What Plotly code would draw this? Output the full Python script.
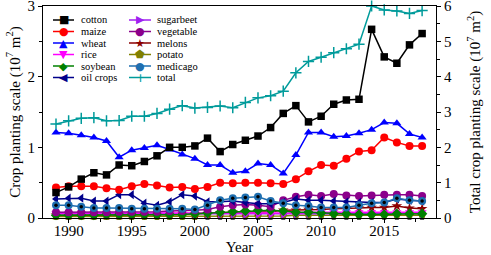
import plotly.graph_objects as go

years = list(range(1989, 2019))

cotton = [0.36,0.44,0.55,0.64,0.61,0.75,0.74,0.80,0.88,1.00,1.00,1.02,1.13,0.94,1.04,1.10,1.16,1.28,1.48,1.59,1.36,1.44,1.61,1.67,1.68,2.67,2.28,2.19,2.45,2.61]
maize = [0.43,0.45,0.45,0.45,0.42,0.40,0.45,0.48,0.46,0.43,0.44,0.41,0.44,0.50,0.49,0.50,0.50,0.49,0.48,0.55,0.66,0.75,0.74,0.84,0.94,0.96,1.14,1.07,1.02,1.02]
wheat = [1.21,1.20,1.17,1.14,1.09,0.86,0.96,0.99,1.03,0.97,0.90,0.84,0.75,0.75,0.64,0.66,0.77,0.75,0.63,0.89,1.21,1.21,1.15,1.16,1.20,1.25,1.35,1.34,1.19,1.14]
rice = [0.07,0.07,0.07,0.07,0.07,0.07,0.07,0.07,0.07,0.07,0.06,0.06,0.06,0.06,0.07,0.07,0.07,0.07,0.07,0.07,0.08,0.08,0.08,0.08,0.08,0.08,0.08,0.08,0.08,0.08]
soybean = [0.04,0.04,0.04,0.04,0.05,0.05,0.05,0.05,0.05,0.05,0.05,0.06,0.07,0.08,0.09,0.10,0.11,0.11,0.10,0.08,0.08,0.07,0.06,0.06,0.05,0.05,0.05,0.06,0.06,0.06]
oil_crops = [0.27,0.28,0.28,0.24,0.24,0.33,0.33,0.21,0.18,0.23,0.33,0.31,0.23,0.23,0.24,0.22,0.20,0.20,0.22,0.27,0.25,0.25,0.24,0.23,0.22,0.22,0.22,0.27,0.25,0.24]
sugarbeet = [0.06,0.06,0.06,0.06,0.06,0.06,0.05,0.05,0.05,0.05,0.05,0.05,0.05,0.05,0.05,0.05,0.05,0.05,0.05,0.05,0.06,0.06,0.06,0.06,0.06,0.06,0.06,0.07,0.06,0.06]
vegetable = [0.08,0.08,0.08,0.08,0.08,0.09,0.09,0.09,0.09,0.10,0.10,0.11,0.12,0.16,0.18,0.19,0.18,0.16,0.25,0.30,0.33,0.31,0.34,0.32,0.31,0.32,0.33,0.33,0.33,0.31]
melons = [0.04,0.04,0.04,0.04,0.04,0.04,0.05,0.05,0.05,0.05,0.05,0.06,0.06,0.07,0.08,0.08,0.09,0.09,0.11,0.11,0.12,0.12,0.13,0.13,0.14,0.15,0.15,0.17,0.14,0.13]
potato = [0.02,0.02,0.02,0.02,0.02,0.02,0.02,0.02,0.02,0.02,0.02,0.02,0.03,0.03,0.03,0.03,0.03,0.03,0.03,0.04,0.04,0.04,0.05,0.04,0.04,0.04,0.04,0.04,0.04,0.04]
medicago = [0.18,0.18,0.16,0.14,0.14,0.14,0.13,0.13,0.13,0.13,0.13,0.12,0.18,0.25,0.28,0.29,0.30,0.24,0.21,0.18,0.17,0.15,0.15,0.15,0.18,0.21,0.22,0.28,0.25,0.24]
total = [2.66,2.75,2.82,2.84,2.75,2.76,2.88,2.88,2.96,3.08,3.18,3.11,3.13,3.17,3.12,3.27,3.40,3.46,3.59,4.11,4.43,4.55,4.68,4.79,4.92,6.00,5.89,5.86,5.79,5.87]
baseline = [0.005] * 30

legend_col1 = ["cotton", "maize", "wheat", "rice", "soybean", "oil crops"]
legend_col2 = ["sugarbeet", "vegetable", "melons", "potato", "medicago", "total"]

FONT = "Liberation Serif"

styles = {
    "cotton": ("#000000", "square", "■"),
    "maize": ("#FF0000", "circle", "●"),
    "wheat": ("#0000FF", "triangle-up", "▲"),
    "rice": ("#FF00FF", "triangle-down", "▼"),
    "soybean": ("#008000", "diamond", "◆"),
    "oil crops": ("#00008B", "triangle-left", "◀"),
    "sugarbeet": ("#A020F0", "triangle-right", "▶"),
    "vegetable": ("#8B008B", "circle", "●"),
    "melons": ("#8B0000", "star", "★"),
    "potato": ("#808000", "pentagon", "⬟"),
    "medicago": ("#1F6FB0", "circle", "●"),
    "total": ("#009B9B", "cross-thin", "+"),
}

fig = go.Figure()

def add(name, y, size=8, yaxis="y", mlw=0):
    color, symbol, _ = styles[name]
    fig.add_trace(go.Scatter(
        x=years, y=y, name=name, mode="lines+markers",
        line=dict(color=color, width=1.5),
        marker=dict(symbol=symbol, size=size, color=color,
                    line=dict(color=color, width=mlw)),
        yaxis=yaxis, showlegend=False, cliponaxis=False))

fig.add_trace(go.Scatter(x=years, y=baseline, mode="markers", showlegend=False,
                         marker=dict(symbol="square", size=4, color="black"),
                         cliponaxis=False, hoverinfo="skip"))
add("potato", potato)
add("melons", melons)
add("sugarbeet", sugarbeet)
add("rice", rice)
add("soybean", soybean)
add("vegetable", vegetable)
add("oil crops", oil_crops)
add("medicago", medicago)
fig.add_trace(go.Scatter(x=years, y=medicago, mode="markers", showlegend=False,
                         marker=dict(symbol="circle", size=3.5, color="black"),
                         cliponaxis=False, hoverinfo="skip"))
add("maize", maize)
add("wheat", wheat)
add("cotton", cotton, size=7.5)
add("total", total, size=8, yaxis="y2", mlw=1.5)

# compact two-column legend (layout text + short line samples)
PX0, PW, PY1, PH = 43, 393, 218, 212
def px(x):
    return (x - PX0) / PW
def py(y):
    return (PY1 - y) / PH

annotations = []
shapes = []
row_y = [20, 31.5, 43, 54.5, 66, 77.5]
for col, (names, seg0, seg1, mx, tx) in enumerate([
        (legend_col1, 53, 74, 63.5, 79),
        (legend_col2, 129, 151, 140, 155)]):
    for i, name in enumerate(names):
        color, _, glyph = styles[name]
        yy = py(row_y[i])
        shapes.append(dict(type="line", xref="paper", yref="paper",
                           x0=px(seg0), x1=px(seg1), y0=yy, y1=yy,
                           line=dict(color=color, width=1.5)))
        gsize = 13 if name == "total" else 11
        annotations.append(dict(xref="paper", yref="paper", x=px(mx), y=yy,
                                text=glyph, showarrow=False, xanchor="center",
                                yanchor="middle",
                                font=dict(family="DejaVu Sans", size=gsize, color=color)))
        annotations.append(dict(xref="paper", yref="paper", x=px(tx), y=yy,
                                text=name, showarrow=False, xanchor="left",
                                yanchor="middle",
                                font=dict(family=FONT, size=10.5, color="black")))

axis_common = dict(showline=True, linecolor="black", linewidth=1.2, ticks="outside",
                   ticklen=4, tickwidth=1.2, tickcolor="black", showgrid=False, zeroline=False,
                   ticklabeloverflow="allow", automargin=False,
                   tickfont=dict(family=FONT, size=15, color="black"))

fig.update_layout(
    width=491, height=255,
    margin=dict(l=43, r=55, t=6, b=37, autoexpand=False),
    paper_bgcolor="white", plot_bgcolor="white",
    font=dict(family=FONT, color="black"),
    showlegend=False,
    annotations=annotations, shapes=shapes,
    xaxis=dict(range=[1987.97, 2019.1], dtick=5, tick0=1990, mirror=True,
               ticklabelstandoff=-5,
               minor=dict(ticks="outside", ticklen=2.5, dtick=2.5, tick0=1990, tickcolor="black"),
               title=dict(text="Year", font=dict(family=FONT, size=15), standoff=2),
               **axis_common),
    yaxis=dict(range=[0, 3], dtick=1,
               minor=dict(ticks="outside", ticklen=2.5, dtick=0.5, tickcolor="black"),
               title=dict(text="Crop planting scale (10<sup>7</sup> m<sup>2</sup>)",
                          font=dict(family=FONT, size=15), standoff=3),
               **axis_common),
    yaxis2=dict(range=[0, 6], dtick=1, overlaying="y", side="right",
                minor=dict(ticks="outside", ticklen=2.5, dtick=0.5, tickcolor="black"),
                title=dict(text="Total crop planting scale (10<sup>7</sup> m<sup>2</sup>)",
                           font=dict(family=FONT, size=15), standoff=18),
                **axis_common),
)

fig.write_html("out.html", config={"displayModeBar": False},
               post_script="document.body.style.margin='0';document.body.style.overflow='hidden';")
